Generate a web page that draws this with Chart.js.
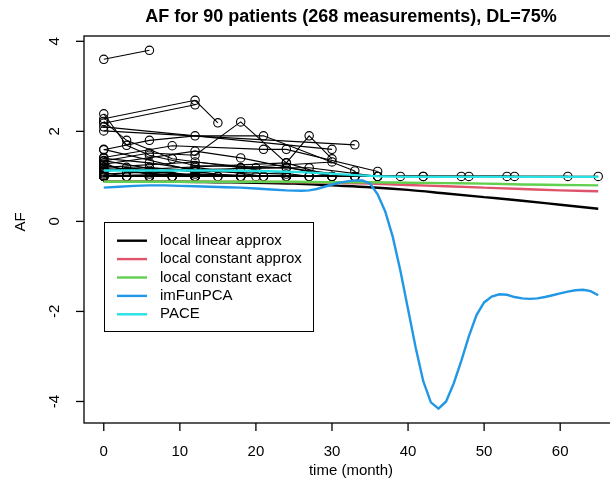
<!DOCTYPE html>
<html>
<head>
<meta charset="utf-8">
<script src="https://cdn.jsdelivr.net/npm/chart.js@4.4.1/dist/chart.umd.min.js"></script>
<style>
  html, body { margin: 0; padding: 0; overflow: hidden; background: #fff; }
  #wrap { width: 640px; height: 489px; }
</style>
</head>
<body>
<div id="wrap"><canvas id="afChart" width="640" height="489"></canvas></div>
<script>
// chart text
const mainTitle = 'AF for 90 patients (268 measurements), DL=75%';
const xTitle = 'time (month)';
const yTitle = 'AF';
const xTicks = [0, 10, 20, 30, 40, 50, 60];
const yTicks = [-4, -2, 0, 2, 4];

// observed AF per patient: [month, AF]
const patients = [
  [[0, 3.6], [6, 3.8]],
  [[0, 2.28], [12, 2.69], [15, 2.19]],
  [[0, 2.18], [12, 2.59]],
  [[0, 2.39], [3, 1.69], [6, 1.47], [12, 1.24], [24, 1.19]],
  [[0, 2.01], [33, 1.7]],
  [[0, 2.10], [30, 1.6]],
  [[0, 2.22], [3, 1.8], [9, 1.39], [18, 1.19], [30, 1.32]],
  [[0, 1.34], [6, 1.52], [12, 1.47], [18, 2.21], [24, 1.3], [27, 1.9], [30, 1.39]],
  [[0, 1.59], [6, 1.8], [12, 1.9], [21, 1.9], [33, 1.12]],
  [[0, 1.42], [9, 1.68], [21, 1.6], [24, 1.6], [36, 1.11]],
  [[0, 1.27], [12, 1.56], [18, 1.41], [30, 1.0]],
  [[0, 1.2], [12, 1.32], [20, 1.19], [27, 1.19], [36, 1.0]],
  [[0, 1.15], [6, 1.2], [12, 1.1], [18, 1.0]],
  [[0, 1.1], [3, 1.2], [12, 1.0], [24, 1.0]],
  [[0, 1.05], [6, 1.1], [15, 1.0], [33, 1.0]],
  [[0, 1.3], [3, 1.1], [12, 1.0], [33, 1.0]],
  [[0, 1.12], [24, 1.3], [30, 1.0]],
  [[0, 1.35], [12, 1.0], [18, 1.0]],
  [[0, 1.02], [12, 1.05], [24, 1.0]],
  [[0, 1.08], [3, 1.0], [12, 1.0]],
  [[0, 1.6], [12, 1.12], [24, 1.05]],
  [[0, 1.25], [6, 1.05], [12, 1.2], [21, 1.0]],
  [[0, 1.18], [9, 1.0], [18, 1.19], [27, 1.0]],
  [[0, 1.4], [6, 1.3], [12, 1.15], [24, 1.19], [33, 1.0]],
  [[0, 1.0], [12, 1.0], [24, 1.0], [36, 1.0], [48, 1.0], [65, 1.0]],
  [[0, 1.0], [6, 1.0], [12, 1.0], [18, 1.0], [42, 1.0], [54, 1.0]],
  [[0, 1.0], [3, 1.0], [9, 1.0], [21, 1.0], [39, 1.0], [53, 1.0]],
  [[0, 1.0], [12, 1.0], [27, 1.0], [47, 1.0], [61, 1.0]],
  [[0, 1.0], [6, 1.0], [20, 1.0], [30, 1.0], [36, 1.0]],
  [[0, 1.0], [3, 1.0], [6, 1.0], [9, 1.0], [12, 1.0]],
  [[0, 1.0], [15, 1.0], [24, 1.0], [33, 1.0], [42, 1.0]],
  [[0, 1.0], [6, 1.0], [18, 1.0], [30, 1.0]],
  [[0, 1.0], [12, 1.0], [21, 1.0], [36, 1.0]],
  [[0, 1.0], [3, 1.0], [12, 1.0], [24, 1.0], [27, 1.0]],
  [[0, 1.0], [9, 1.0], [18, 1.0]],
  [[0, 1.0], [6, 1.0], [12, 1.0], [33, 1.0]]
];

// fitted mean curves
const curveMonths = [0, 5, 10, 15, 20, 25, 30, 35, 40, 45, 50, 55, 60, 65];
const localLinear   = [0.88, 0.88, 0.88, 0.87, 0.86, 0.84, 0.80, 0.76, 0.70, 0.62, 0.54, 0.46, 0.37, 0.28];
const localConstApx = [0.88, 0.88, 0.88, 0.88, 0.88, 0.87, 0.86, 0.84, 0.81, 0.78, 0.75, 0.72, 0.69, 0.67];
const localConstExa = [0.88, 0.88, 0.88, 0.88, 0.88, 0.88, 0.87, 0.87, 0.86, 0.85, 0.84, 0.82, 0.81, 0.80];
const pace          = [1.13, 1.13, 1.13, 1.13, 1.12, 1.10, 1.06, 1.01, 0.99, 0.99, 0.99, 0.99, 0.99, 0.99];

const imfunMonths = [0, 2, 4, 6, 8, 10, 12, 14, 16, 18, 20, 22, 24, 26, 27, 28, 29, 30, 31, 32, 33, 34,
  35, 36, 37, 38, 39, 40, 41, 42, 43, 44, 45, 46, 47, 48, 49, 50, 51, 52, 53, 54, 55, 56, 57, 58, 59,
  60, 61, 62, 63, 64, 65];
const imFunPCA = [0.75, 0.77, 0.79, 0.80, 0.80, 0.79, 0.78, 0.77, 0.76, 0.75, 0.73, 0.71, 0.69, 0.68,
  0.69, 0.72, 0.77, 0.82, 0.86, 0.89, 0.91, 0.91, 0.84, 0.60, 0.22, -0.35, -1.10, -1.95, -2.80, -3.55,
  -4.02, -4.16, -4.00, -3.60, -3.10, -2.55, -2.08, -1.80, -1.67, -1.62, -1.63, -1.68, -1.71, -1.72,
  -1.71, -1.68, -1.64, -1.60, -1.56, -1.53, -1.52, -1.55, -1.64];

const curveLabels = ['local linear approx', 'local constant approx', 'local constant exact', 'imFunPCA', 'PACE'];
const curveColors = ['#000000', '#DF536B', '#61D04F', '#2297E6', '#28E2E5'];

const FONT = '"Liberation Sans", Arial, Helvetica, sans-serif';

function pairs(xs, ys) {
  return xs.map((t, i) => ({ x: t, y: ys[i] }));
}

const datasets = [];

patients.forEach(p => {
  datasets.push({
    data: p.map(([t, v]) => ({ x: t, y: v })),
    borderColor: '#000',
    borderWidth: 1.1,
    pointRadius: 4.2,
    pointBorderWidth: 1.1,
    pointBorderColor: '#000',
    pointBackgroundColor: 'rgba(0,0,0,0)',
    tension: 0,
    order: 10
  });
});

const curveData = [
  pairs(curveMonths, localLinear),
  pairs(curveMonths, localConstApx),
  pairs(curveMonths, localConstExa),
  pairs(imfunMonths, imFunPCA),
  pairs(curveMonths, pace)
];

curveData.forEach((d, i) => {
  datasets.push({
    label: curveLabels[i],
    data: d,
    borderColor: curveColors[i],
    borderWidth: 2.4,
    pointRadius: 0,
    cubicInterpolationMode: i === 3 ? 'default' : 'monotone',
    tension: 0,
    order: 5 - i
  });
});

// R style box, axes, titles and legend
const rDecor = {
  id: 'rDecor',
  afterDraw(chart) {
    const { ctx, chartArea: a, scales: { x, y } } = chart;
    ctx.save();
    ctx.strokeStyle = '#000';
    ctx.fillStyle = '#000';
    ctx.lineWidth = 1.3;
    ctx.strokeRect(a.left, a.top, a.right - a.left, a.bottom - a.top);

    ctx.font = '15px ' + FONT;
    ctx.textAlign = 'center';
    ctx.textBaseline = 'middle';
    xTicks.forEach(v => {
      const px = x.getPixelForValue(v);
      ctx.beginPath();
      ctx.moveTo(px, a.bottom);
      ctx.lineTo(px, a.bottom + 8);
      ctx.stroke();
      ctx.fillText(String(v), px, a.bottom + 29);
    });
    yTicks.forEach(v => {
      const py = y.getPixelForValue(v);
      ctx.beginPath();
      ctx.moveTo(a.left, py);
      ctx.lineTo(a.left - 8, py);
      ctx.stroke();
      ctx.save();
      ctx.translate(a.left - 29, py);
      ctx.rotate(-Math.PI / 2);
      ctx.fillText(String(v), 0, 0);
      ctx.restore();
    });

    ctx.fillText(xTitle, (a.left + a.right) / 2, a.bottom + 48);
    ctx.save();
    ctx.translate(a.left - 63, 222);
    ctx.rotate(-Math.PI / 2);
    ctx.fillText(yTitle, 0, 0);
    ctx.restore();

    ctx.font = 'bold 18px ' + FONT;
    ctx.fillText(mainTitle, (a.left + a.right) / 2, 17);

    // legend
    const lx = 104, ly = 222, lw = 209, lh = 109;
    ctx.fillStyle = '#fff';
    ctx.fillRect(lx, ly, lw, lh);
    ctx.lineWidth = 1;
    ctx.strokeStyle = '#000';
    ctx.strokeRect(lx + 0.5, ly + 0.5, lw, lh);
    ctx.font = '15px ' + FONT;
    ctx.textAlign = 'left';
    curveLabels.forEach((lab, i) => {
      const ry = 240.7 + i * 18.4;
      ctx.strokeStyle = curveColors[i];
      ctx.lineWidth = 2.4;
      ctx.beginPath();
      ctx.moveTo(117, ry);
      ctx.lineTo(147, ry);
      ctx.stroke();
      ctx.fillStyle = '#000';
      ctx.fillText(lab, 160, ry);
    });
    ctx.restore();
  }
};

new Chart(document.getElementById('afChart'), {
  type: 'line',
  data: { datasets: datasets },
  options: {
    responsive: false,
    animation: false,
    devicePixelRatio: 1,
    events: [],
    layout: { padding: { left: 84, right: 22, top: 36, bottom: 66 } },
    scales: {
      x: { type: 'linear', min: -2.6, max: 67.6, display: false },
      y: { type: 'linear', min: -4.478, max: 4.118, display: false }
    },
    plugins: {
      legend: { display: false },
      tooltip: { enabled: false },
      title: { display: false }
    }
  },
  plugins: [rDecor]
});
</script>
</body>
</html>
